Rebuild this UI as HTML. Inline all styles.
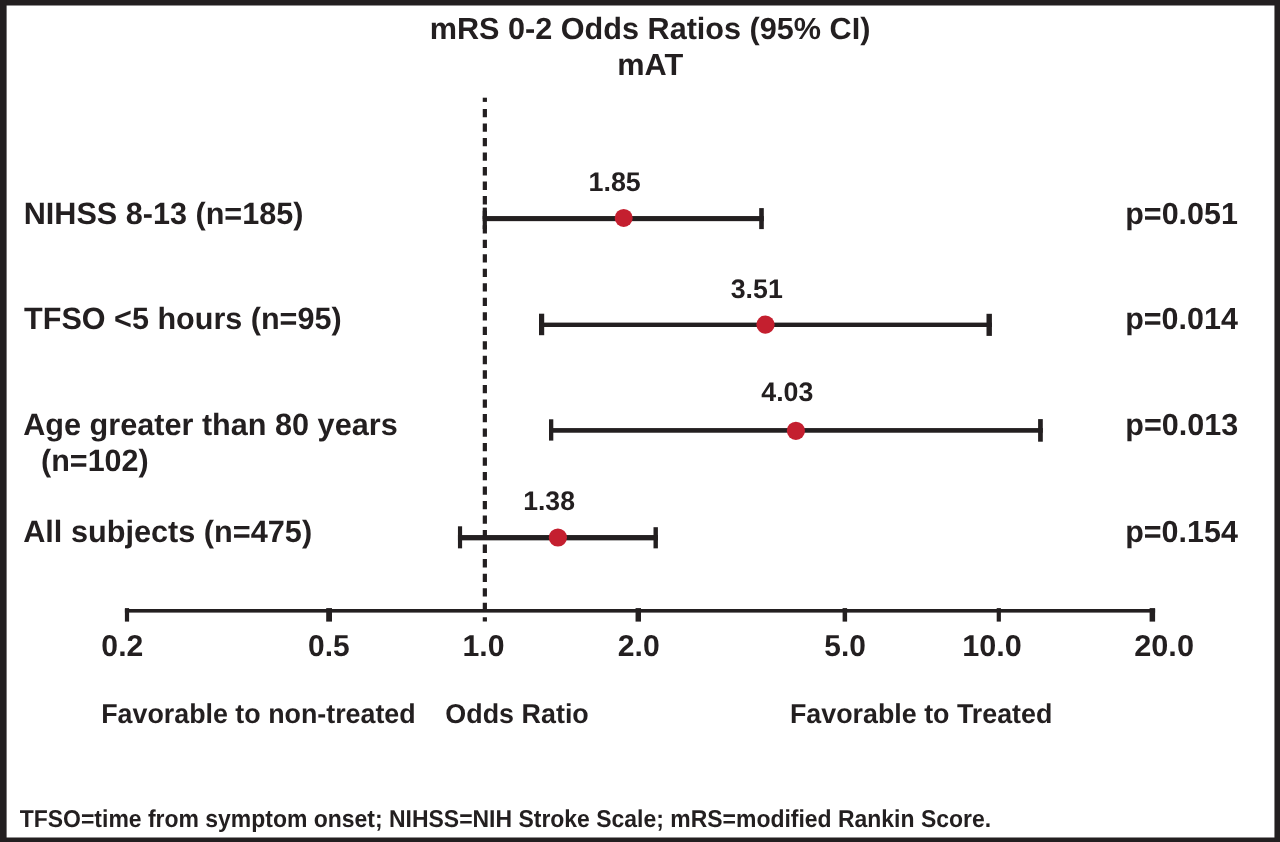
<!DOCTYPE html>
<html lang="en">
<head>
<meta charset="utf-8">
<title>mRS 0-2 Odds Ratios (95% CI) mAT</title>
<style>
html,body{margin:0;padding:0;background:#fff;}
body{width:1280px;height:842px;overflow:hidden;}
svg{display:block;will-change:transform;}
text{font-family:'Liberation Sans', sans-serif;font-weight:bold;fill:#231f20;text-rendering:geometricPrecision;}
</style>
</head>
<body>
<svg width="1280" height="842" viewBox="0 0 1280 842">
<rect x="0" y="0" width="1280" height="842" fill="#ffffff"/>
<!-- frame -->
<g fill="#231f20">
<rect x="0" y="0" width="1280" height="5.5"/>
<rect x="0" y="837.5" width="1280" height="4.5"/>
<rect x="0" y="0" width="6.6" height="842"/>
<rect x="1274.45" y="0" width="5.55" height="842"/>
</g>
<!-- reference line at odds ratio 1.0 -->
<rect x="482.75" y="97.7" width="4.2" height="4.2" fill="#231f20"/>
<line x1="484.85" y1="109" x2="484.85" y2="621.5" stroke="#231f20" stroke-width="4.2" stroke-dasharray="8.3 6.22"/>
<!-- axis -->
<g fill="#231f20">
<rect x="124.9" y="609" width="1030.2" height="3.6"/>
<rect x="124.9" y="608.1" width="4.2" height="13.5"/>
<rect x="326.2" y="608.1" width="5.8" height="13.5"/>
<rect x="635.55" y="608.1" width="5.45" height="13.5"/>
<rect x="842.6" y="608.1" width="4.5" height="13.5"/>
<rect x="996.7" y="608.1" width="4.2" height="13.5"/>
<rect x="1149.6" y="608.1" width="5.5" height="13.5"/>
</g>
<!-- confidence intervals -->
<g fill="#231f20">
<rect x="482.7" y="216.05" width="281.1" height="5.1"/>
<rect x="482.7" y="207.6" width="4.2" height="21.5"/>
<rect x="759.2" y="208.1" width="4.6" height="21"/>
</g>
<circle cx="623.7" cy="217.9" r="9" fill="#c41f2f"/>
<g fill="#231f20">
<rect x="539" y="322.6" width="452.9" height="4.4"/>
<rect x="539" y="313.7" width="5.2" height="21.5"/>
<rect x="986.5" y="313.8" width="5.4" height="22.1"/>
</g>
<circle cx="765.5" cy="324.6" r="9.15" fill="#c41f2f"/>
<g fill="#231f20">
<rect x="549" y="428.075" width="493.8" height="4.65"/>
<rect x="549" y="419.3" width="4.3" height="21.3"/>
<rect x="1038.1" y="419.1" width="4.7" height="22.6"/>
</g>
<circle cx="795.9" cy="430.8" r="9.1" fill="#c41f2f"/>
<g fill="#231f20">
<rect x="457.95" y="535.05" width="199.95" height="5.3"/>
<rect x="457.95" y="526.3" width="4.15" height="22.05"/>
<rect x="653.5" y="527.2" width="4.4" height="21.15"/>
</g>
<circle cx="557.9" cy="537.5" r="9.1" fill="#c41f2f"/>
<!-- text -->
<text id="t1" x="429.74" y="39" font-size="30.60" textLength="440.69" lengthAdjust="spacingAndGlyphs">mRS 0-2 Odds Ratios (95% CI)</text>
<text id="t2" x="617.20" y="75" font-size="30.60" textLength="66.00" lengthAdjust="spacingAndGlyphs">mAT</text>
<text id="r1" x="23.77" y="224" font-size="30.80" textLength="279.70" lengthAdjust="spacingAndGlyphs">NIHSS 8-13 (n=185)</text>
<text id="r2" x="24.06" y="329" font-size="30.80" textLength="317.60" lengthAdjust="spacingAndGlyphs">TFSO &lt;5 hours (n=95)</text>
<text id="r3" x="23.19" y="435" font-size="30.80" textLength="374.48" lengthAdjust="spacingAndGlyphs">Age greater than 80 years</text>
<text id="r3b" x="41.06" y="471" font-size="30.80" textLength="107.61" lengthAdjust="spacingAndGlyphs">(n=102)</text>
<text id="r4" x="23.17" y="542" font-size="30.80" textLength="288.96" lengthAdjust="spacingAndGlyphs">All subjects (n=475)</text>
<text id="p1" x="1125.26" y="224" font-size="30.60" textLength="112.66" lengthAdjust="spacingAndGlyphs">p=0.051</text>
<text id="p2" x="1125.23" y="329" font-size="30.60" textLength="112.66" lengthAdjust="spacingAndGlyphs">p=0.014</text>
<text id="p3" x="1125.22" y="435" font-size="30.60" textLength="112.94" lengthAdjust="spacingAndGlyphs">p=0.013</text>
<text id="p4" x="1125.23" y="542" font-size="30.60" textLength="112.66" lengthAdjust="spacingAndGlyphs">p=0.154</text>
<text id="v1" x="588.50" y="191" font-size="26.80" textLength="52.29" lengthAdjust="spacingAndGlyphs">1.85</text>
<text id="v2" x="730.74" y="298" font-size="26.80" textLength="52.06" lengthAdjust="spacingAndGlyphs">3.51</text>
<text id="v3" x="761.28" y="401" font-size="26.80" textLength="52.06" lengthAdjust="spacingAndGlyphs">4.03</text>
<text id="v4" x="523.21" y="510" font-size="26.80" textLength="51.70" lengthAdjust="spacingAndGlyphs">1.38</text>
<text id="a1" x="101.37" y="656" font-size="30.20" textLength="41.94" lengthAdjust="spacingAndGlyphs">0.2</text>
<text id="a2" x="308.07" y="656" font-size="30.20" textLength="41.63" lengthAdjust="spacingAndGlyphs">0.5</text>
<text id="a3" x="462.56" y="656" font-size="30.20" textLength="42.01" lengthAdjust="spacingAndGlyphs">1.0</text>
<text id="a4" x="617.83" y="656" font-size="30.20" textLength="41.95" lengthAdjust="spacingAndGlyphs">2.0</text>
<text id="a5" x="824.25" y="656" font-size="30.20" textLength="41.59" lengthAdjust="spacingAndGlyphs">5.0</text>
<text id="a6" x="962.24" y="656" font-size="30.20" textLength="59.56" lengthAdjust="spacingAndGlyphs">10.0</text>
<text id="a7" x="1134.23" y="656" font-size="30.20" textLength="59.75" lengthAdjust="spacingAndGlyphs">20.0</text>
<text id="b1" x="101.20" y="723" font-size="27.40" textLength="314.49" lengthAdjust="spacingAndGlyphs">Favorable to non-treated</text>
<text id="b2" x="445.35" y="723" font-size="27.40" textLength="143.45" lengthAdjust="spacingAndGlyphs">Odds Ratio</text>
<text id="b3" x="789.98" y="723" font-size="27.40" textLength="262.40" lengthAdjust="spacingAndGlyphs">Favorable to Treated</text>
<text id="f1" x="19.75" y="827" font-size="24.40" textLength="971.33" lengthAdjust="spacingAndGlyphs">TFSO=time from symptom onset; NIHSS=NIH Stroke Scale; mRS=modified Rankin Score.</text>
</svg>
</body>
</html>
